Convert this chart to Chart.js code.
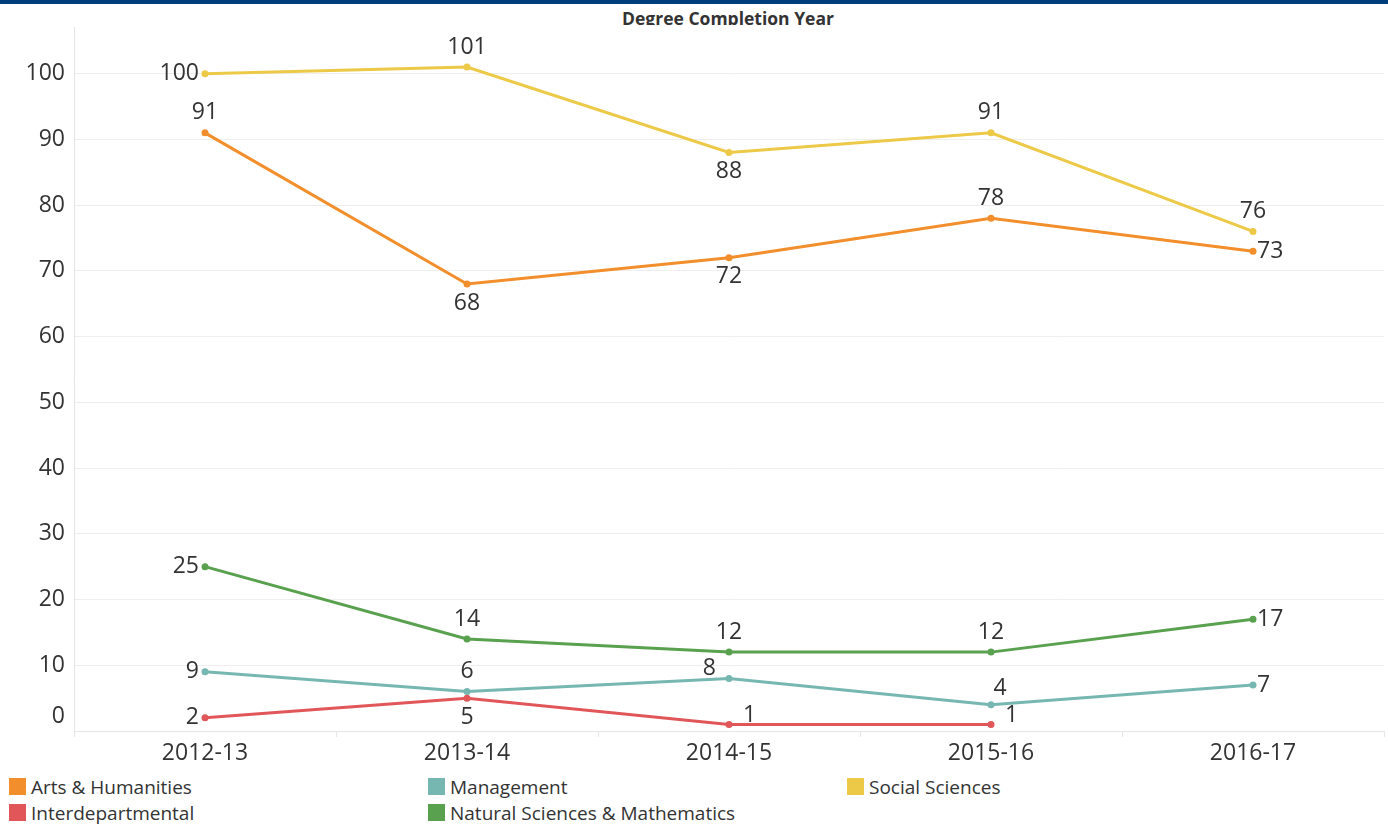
<!DOCTYPE html>
<html>
<head>
<meta charset="utf-8">
<script src="https://cdn.jsdelivr.net/npm/chart.js@4"></script>
<style>
  html, body { margin: 0; padding: 0; background: #fff; }
  body { width: 1388px; height: 825px; position: relative; overflow: hidden; font-family: "Open Sans", sans-serif; }
  #topbar { position: absolute; left: 0; top: 0; width: 1388px; height: 4px; background: #003d7d; }
  #title { position: absolute; left: 0; top: 4px; width: 1456px; height: 21px; overflow: hidden; text-align: center; font-weight: bold; font-size: 17.5px; line-height: 28px; color: #333; }
  #wrap { position: absolute; left: 0; top: 0; width: 1388px; height: 770px; }
  .leg { position: absolute; font-size: 19px; color: #333; line-height: 19px; white-space: nowrap; }
  .leg span.sw { position: absolute; left: 0; top: 0; width: 17px; height: 17px; }
  .leg span.tx { position: absolute; left: 22px; top: 0px; }
</style>
</head>
<body>
<div id="topbar"></div>
<div id="title">Degree Completion Year</div>
<div id="wrap"><canvas id="c" width="1388" height="770"></canvas></div>
<div id="legend"></div>
<script>
// ---- data ----
const categories = ["2012-13", "2013-14", "2014-15", "2015-16", "2016-17"];
const seriesNames = ["Arts & Humanities", "Management", "Social Sciences", "Interdepartmental", "Natural Sciences & Mathematics"];
const artsHumanities = [91, 68, 72, 78, 73];
const management = [9, 6, 8, 4, 7];
const socialSciences = [100, 101, 88, 91, 76];
const interdepartmental = [2, 5, 1, 1, null];
const naturalSciences = [25, 14, 12, 12, 17];
const yTicks = [0, 10, 20, 30, 40, 50, 60, 70, 80, 90, 100];

// ---- styles ----
const colors = ["#f28e2b", "#76b7b2", "#edc948", "#e15759", "#59a14f"];
// label placement per series / point
const labelPlace = [
  ["T", "B", "B", "T", "R"],
  ["L", "T", "TL", "T4", "R"],
  ["L", "T", "B", "T", "T"],
  ["L", "B", "TR", "TR", null],
  ["L", "T", "T", "T", "R"]
];
const placeMap = {
  T: [0, -20, "center"], B: [0, 19, "center"], L: [-6, 0, "right"], R: [4, 0, "left"],
  TL: [-13, -10, "right"], TR: [14, -9, "left"], T4: [9, -16, "center"]
};

const seriesData = [artsHumanities, management, socialSciences, interdepartmental, naturalSciences];
const drawOrder = [4, 3, 1, 0, 2];

// legend
const legendEl = document.getElementById("legend");
const legCols = [9, 428, 847];
const legRows = [778, 804];
seriesNames.forEach((n, i) => {
  const d = document.createElement("div");
  d.className = "leg";
  d.style.left = legCols[i % 3] + "px";
  d.style.top = legRows[Math.floor(i / 3)] + "px";
  d.innerHTML = '<span class="sw" style="background:' + colors[i] + '"></span><span class="tx"></span>';
  d.querySelector(".tx").textContent = n;
  legendEl.appendChild(d);
});

const FONT = '"Open Sans", sans-serif';

const labelPlugin = {
  id: "labels",
  afterDatasetsDraw(chart) {
    const ctx = chart.ctx;
    ctx.save();
    ctx.font = "23px " + FONT;
    ctx.fillStyle = "#333";
    ctx.textBaseline = "middle";
    chart.data.datasets.forEach((ds, di) => {
      const meta = chart.getDatasetMeta(di);
      const si = ds.seriesIndex;
      meta.data.forEach((pt, j) => {
        const v = ds.data[j];
        if (v === null || v === undefined) return;
        const p = placeMap[labelPlace[si][j]];
        ctx.textAlign = p[2];
        ctx.fillText(String(v), pt.x + p[0], pt.y + p[1]);
      });
    });
    // y tick labels
    const ys = chart.scales.y;
    ctx.textAlign = "right";
    ys.ticks.forEach(t => {
      let y = ys.getPixelForValue(t.value);
      if (t.value === 0) y -= 15;
      ctx.fillText(String(t.value), 65, y);
    });
    ctx.restore();
  }
};

new Chart(document.getElementById("c"), {
  type: "line",
  data: {
    labels: categories,
    datasets: drawOrder.map(i => ({
      label: seriesNames[i],
      seriesIndex: i,
      data: seriesData[i],
      borderColor: colors[i],
      backgroundColor: colors[i],
      borderWidth: 3,
      pointRadius: 3.5,
      pointHoverRadius: 3.5,
      pointBorderWidth: 0,
      tension: 0,
      spanGaps: false
    }))
  },
  options: {
    responsive: false,
    animation: false,
    events: [],
    layout: { padding: { top: 27, right: 4, left: 0, bottom: 0 } },
    plugins: { legend: { display: false }, tooltip: { enabled: false }, title: { display: false } },
    scales: {
      x: {
        type: "category",
        offset: true,
        grid: { display: true, offset: true, drawOnChartArea: false, color: "#e6e6e6", tickLength: 6, lineWidth: 1 },
        border: { display: true, color: "#e6e6e6", width: 1 },
        ticks: { color: "#333", font: { family: FONT, size: 23 }, padding: 3, maxRotation: 0 },
        afterFit: s => { s.height = 39; }
      },
      y: {
        min: 0,
        max: 107.1,
        afterBuildTicks: s => { s.ticks = yTicks.map(v => ({ value: v })); },
        grid: { color: "#eeeeee", lineWidth: 1, tickLength: 0, drawTicks: false },
        border: { display: true, color: "#e6e6e6", width: 1 },
        ticks: { display: false },
        afterFit: s => { s.width = 74; }
      }
    }
  },
  plugins: [labelPlugin]
});
</script>
</body>
</html>
